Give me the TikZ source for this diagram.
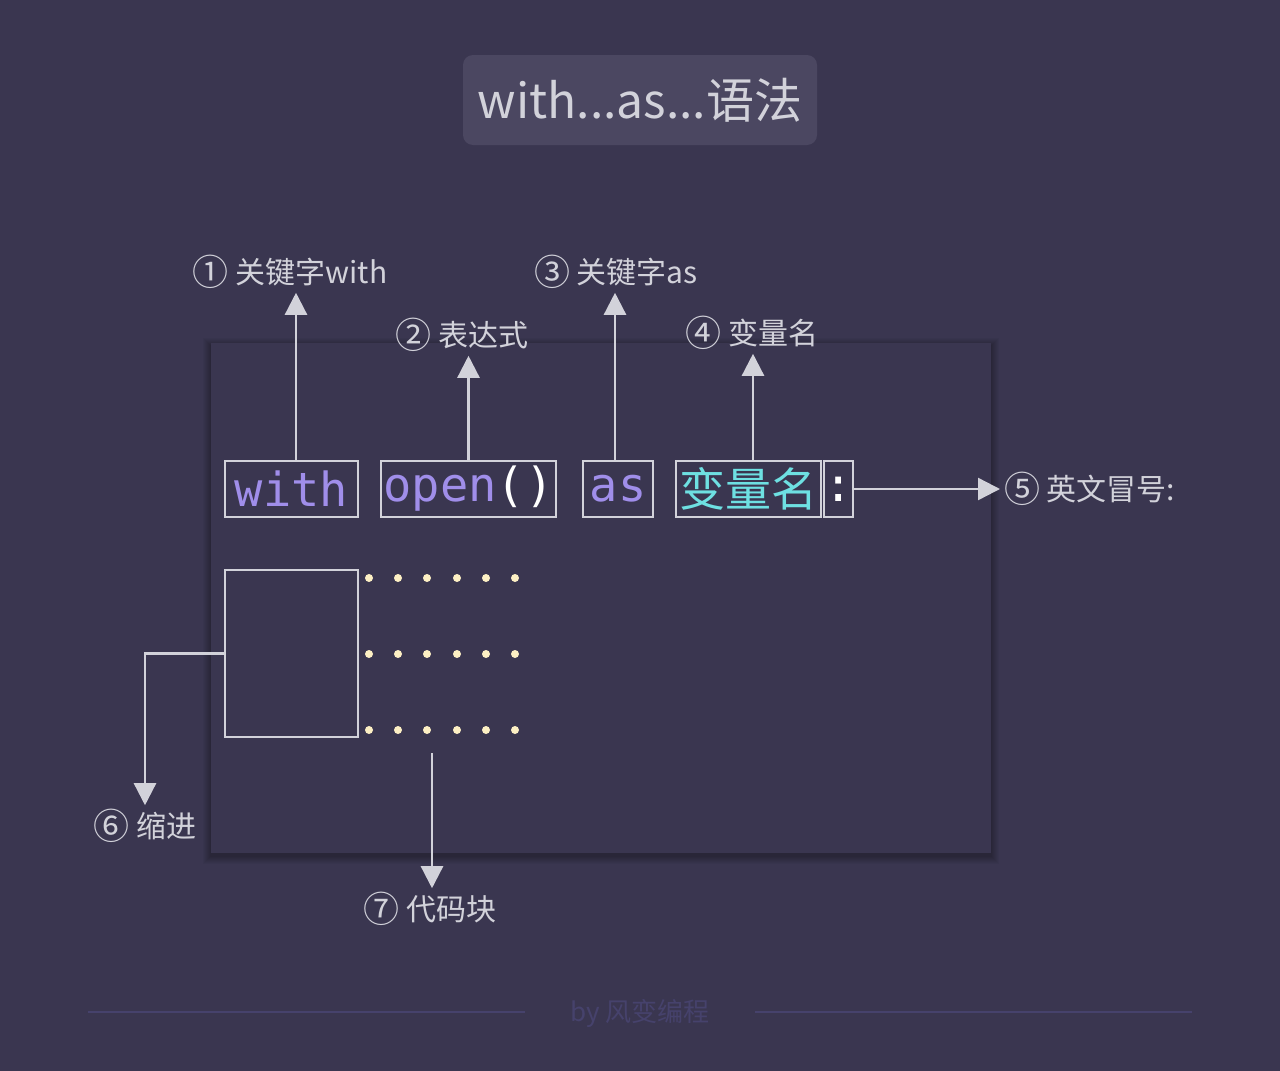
\documentclass[tikz,border=0pt]{standalone}
\usepackage{fontspec}
\setmainfont{Noto Sans CJK SC}
\setmonofont{DejaVu Sans Mono}
\newfontfamily\cjk{Noto Sans CJK SC}
\usetikzlibrary{arrows.meta}

\definecolor{bgcol}{HTML}{3A3650}
\definecolor{titlecol}{HTML}{4B4761}
\definecolor{linecol}{HTML}{D2D2DA}
\definecolor{kwcol}{HTML}{A08EEA}
\definecolor{varcol}{HTML}{6EE0E2}
\definecolor{dotcol}{HTML}{FDF0C4}
\definecolor{footcol}{HTML}{46426C}

\newcommand{\circnum}[1]{\raisebox{-0.08em}{\scalebox{1.2}{#1}}}

\begin{document}
\begin{tikzpicture}[
  x=1pt,y=-1pt,
  every node/.style={inner sep=0pt,outer sep=0pt},
  label/.style={text=linecol,font=\fontsize{30}{35}\selectfont,inner sep=4pt},
  codebox/.style={draw=linecol,line width=2pt,minimum height=56,font=\ttfamily\fontsize{47}{52}\selectfont},
  conn/.style={draw=linecol,line width=2.4pt,-{Triangle[width=22pt,length=22pt]}},
  ]
  % background and panel
  \useasboundingbox[fill=bgcol] (0,0) rectangle (1280,1071);
  \foreach \s in {1,...,8}
    \fill[black,opacity=0.035] (211-\s,343-\s+3) rectangle (991+\s,853+\s+3);
  \fill[bgcol] (211,343) rectangle (991,853);

  % title
  \node[fill=titlecol,rounded corners=10pt,minimum width=354,minimum height=90,
    text=linecol,font=\fontsize{48}{54}\selectfont] (title) at (640,100) {with...as...语法};

  % code line
  \node[codebox,minimum width=133,text=kwcol] (with) at (291.5,489) {with};
  \node[codebox,minimum width=175,text=kwcol] (open) at (468.5,489) {open\textcolor{white}{()}};
  \node[codebox,minimum width=70,text=kwcol] (as) at (618,489) {as};
  \node[codebox,minimum width=145,text=varcol,font=\cjk\fontsize{46}{52}\selectfont] (var) at (748.5,489) {变量名};
  \node[codebox,minimum width=27,text=white] (colon) at (838.5,489) {:};

  % indented block
  \node[draw=linecol,line width=2pt,minimum width=133,minimum height=167] (indent) at (291.5,653.5) {};
  \foreach \y in {578,654,730}
    \foreach \x in {369,398,427,457,486,515}
      \fill[dotcol] (\x,\y) circle (4);

  % labels
  \node[label] (lblwith) at (290,272) {\circnum{①} 关键字with};
  \node[label] (lblopen) at (462,335) {\circnum{②} 表达式};
  \node[label] (lblas) at (616,272) {\circnum{③} 关键字as};
  \node[label] (lblvar) at (752,333) {\circnum{④} 变量名};
  \node[label,anchor=west] (lblcolon) at (1000,489) {\circnum{⑤} 英文冒号:};
  \node[label] (lblindent) at (145,826) {\circnum{⑥} 缩进};
  \node[label] (lblblock) at (430,909) {\circnum{⑦} 代码块};
  \coordinate (blockstart) at (432,753);

  % connectors
  \draw[conn] ([xshift=4.5]with.north) -- ([xshift=4.5]with.north |- lblwith.south);
  \draw[conn] (open.north) -- (open.north |- lblopen.south);
  \draw[conn] ([xshift=-3]as.north) -- ([xshift=-3]as.north |- lblas.south);
  \draw[conn] ([xshift=4.5]var.north) -- ([xshift=4.5]var.north |- lblvar.south);
  \draw[conn] (colon.east) -- (colon.east -| lblcolon.west);
  \draw[conn] (indent.west) -| (lblindent.north);
  \draw[conn] (blockstart) -- (blockstart |- lblblock.north);

  % footer
  \node[text=footcol,font=\fontsize{26}{30}\selectfont] (footer) at (640,1013) {by 风变编程};
  \coordinate (fl1) at (88,1012);
  \coordinate (fl2) at (525,1012);
  \coordinate (fr1) at (755,1012);
  \coordinate (fr2) at (1192,1012);
  \draw[footcol,line width=1.5pt] (fl1) -- (fl2) (fr1) -- (fr2);
\end{tikzpicture}
\end{document}
